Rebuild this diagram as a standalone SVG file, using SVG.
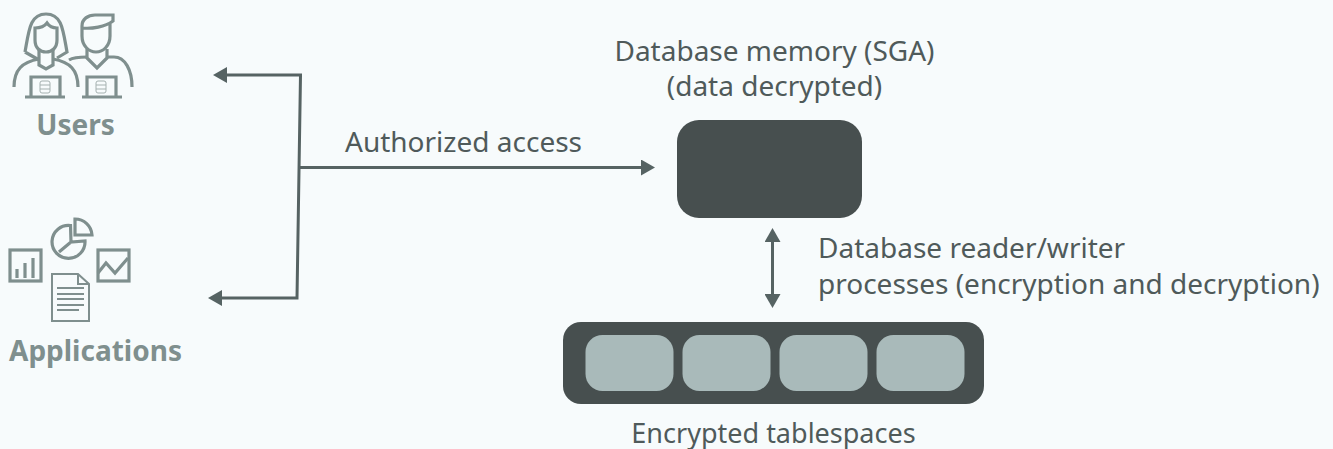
<svg xmlns="http://www.w3.org/2000/svg" width="1333" height="449" viewBox="0 0 1333 449">
<style>
.t{font-family:"Noto Sans","Open Sans",sans-serif;font-size:28px;fill:#4f5a5a}
.b{font-family:"Noto Sans","Open Sans",sans-serif;font-size:28px;font-weight:700;fill:#7f8f8e}
.i{fill:none;stroke:#7f8f8e;stroke-width:3.200}
.d{fill:none;stroke:#a5b1b0;stroke-width:1}
.l{fill:none;stroke:#7f8f8e;stroke-width:2}
.c{fill:none;stroke:#566363;stroke-width:3}
.s{fill:#a9baba}
</style>
<defs>
<marker id="ah" viewBox="0 0 14 16" refX="1" refY="8" markerWidth="14" markerHeight="16" markerUnits="userSpaceOnUse" orient="auto-start-reverse"><path d="M0 0L14 8L0 16Z" fill="#566363"/></marker>
</defs>
<rect width="1333" height="449" fill="#f7fbfc"/>
<g id="connectors">
<path class="c" d="M226 75H300.500L297 298H221" marker-start="url(#ah)" marker-end="url(#ah)"/>
<path class="c" d="M299 167.500H642" marker-end="url(#ah)"/>
<path class="c" d="M772.500 241V295" marker-start="url(#ah)" marker-end="url(#ah)"/>
</g>
<g id="users">
<path class="i" d="M25 52C29 30 30 14 46 14C62 14 63 30 67 52L57 58M25 52L39 60"/>
<path class="i" d="M35 28V40C35 48 40 52 46 52C52 52 57 48 57 40V28C52 28 49 26 47 23C44 27 40 28 35 28Z"/>
<path class="i" d="M39 50V65L46 69L53 65V50"/>
<path class="i" d="M14 87C14 70 22 62 39 59M53 59C70 62 78 70 78 87"/>
<path class="i" d="M82 28V36C82 46 89 52 96 52C103 52 110 46 110 36V22M82 28V26C82 19 88 15 95 15H113V21C105 27 92 29 82 28Z"/>
<path class="i" d="M87 49V58L97 68L107 58V49"/>
<path class="i" d="M69 60C74 57 80 57 87 57M107 57H114C125 57 132 70 132 87"/>
<path class="i" d="M31 96V77H60V96M25 97H65"/>
<path class="i" d="M87 96V77H116V96M82 97H122"/>
<g class="d"><rect x="40" y="81" width="10" height="12" rx="2"/><path d="M40 85H50M40 89H50"/><rect x="96" y="81" width="10" height="12" rx="2"/><path d="M96 85H106M96 89H106"/></g>
<text class="b" x="75.500" y="135" text-anchor="middle">Users</text>
</g>
<g id="applications">
<path class="i" d="M70.500 225.500A16.500 16.500 0 1 0 85 241L71 242Z M71 242L59 252"/>
<path class="i" d="M75 219A17 17 0 0 1 92 235H75Z"/>
<rect class="i" x="10" y="250" width="31" height="31"/>
<path class="i" d="M17 278V269M25 278V263M33 278V258"/>
<rect class="i" x="98" y="250" width="31" height="31"/>
<path class="i" d="M98 273L106 263L115 273L128 258"/>
<path class="l" d="M52 274H78L89 284V321H52Z M78 274V284H89"/>
<path class="l" d="M57 288H84M57 294H84M57 299H84M57 305H84M57 310H79"/>
<text class="b" x="95.500" y="361" text-anchor="middle">Applications</text>
</g>
<g id="access-label"><text class="t" x="463.500" y="152" text-anchor="middle">Authorized access</text></g>
<g id="memory">
<text class="t" x="774.500" y="61" text-anchor="middle">Database memory (SGA)</text>
<text class="t" x="774.500" y="96" text-anchor="middle">(data decrypted)</text>
<rect x="677" y="120" width="185" height="98" rx="22" fill="#474f4f"/>
</g>
<g id="processes-label">
<text class="t" x="818" y="258">Database reader/writer</text>
<text class="t" x="818" y="294">processes (encryption and decryption)</text>
</g>
<g id="tablespaces">
<rect x="563" y="322" width="421" height="82" rx="18" fill="#474f4f"/>
<rect class="s" x="585.500" y="335" width="88" height="56" rx="17"/>
<rect class="s" x="682.500" y="335" width="88" height="56" rx="17"/>
<rect class="s" x="779.500" y="335" width="88" height="56" rx="17"/>
<rect class="s" x="876.500" y="335" width="88" height="56" rx="17"/>
<text class="t" x="773.500" y="443" style="font-size:27px" text-anchor="middle">Encrypted tablespaces</text>
</g>
</svg>
